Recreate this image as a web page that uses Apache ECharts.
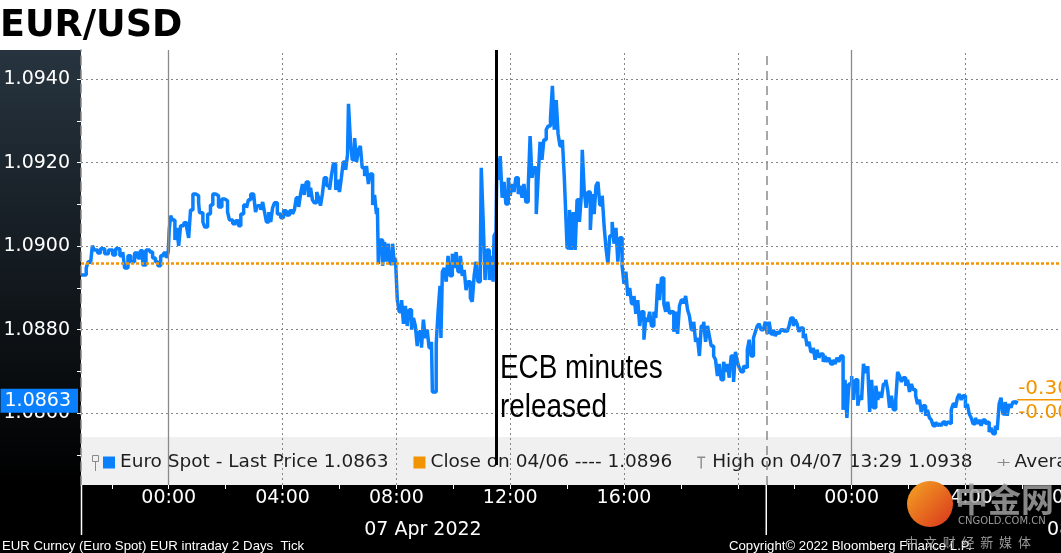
<!DOCTYPE html>
<html>
<head>
<meta charset="utf-8">
<title>EUR/USD</title>
<script src="https://cdn.jsdelivr.net/npm/echarts@6/dist/echarts.min.js"></script>
<style>
  html, body { margin: 0; padding: 0; background: #000; }
  #wrap { position: relative; width: 1061px; height: 553px; overflow: hidden; }
  .bg-top { position: absolute; left: 0; top: 0; width: 1061px; height: 50px; background: #fff; }
  .bg-left { position: absolute; left: 0; top: 50px; width: 81px; height: 435px; background: linear-gradient(#27343f, #000); }
  #chart { position: absolute; left: 0; top: 0; width: 1061px; height: 553px; }
</style>
</head>
<body>
<div id="wrap">
  <div class="bg-top"></div>
  <div class="bg-left"></div>
  <div id="chart"></div>
</div>
<script>
// ticks, one list per day
var apr06Times = ['20:55','21:06','21:10','21:15','21:19','21:23','21:30','21:36','21:45','21:53',
  '22:02','22:08','22:17','22:23','22:27','22:34','22:40','22:48','22:55','23:00',
  '23:05','23:12','23:20','23:26','23:32','23:37','23:43','23:49','23:55','23:59'];
var apr06Prices = [1.08931,1.08948,1.08963,1.08958,1.09001,1.08991,1.08984,1.08994,1.08982,1.08991,
  1.08979,1.08994,1.08977,1.08986,1.08948,1.08977,1.08963,1.08984,1.08972,1.08989,
  1.08955,1.08991,1.08986,1.08972,1.08963,1.08953,1.08977,1.08984,1.08972,1.08986];

var apr07Times = ['00:01','00:04','00:08','00:13','00:17','00:21','00:25','00:32','00:38','00:42',
  '00:46','00:51','00:57','01:03','01:05','01:12','01:16','01:22','01:28','01:33',
  '01:39','01:45','01:52','01:58','02:04','02:08','02:15','02:21','02:27','02:32',
  '02:38','02:44','02:48','02:53','02:59','03:03','03:07','03:14','03:18','03:22',
  '03:26','03:31','03:35','03:39','03:43','03:49','03:56','04:02','04:08','04:15',
  '04:21','04:25','04:29','04:34','04:38','04:42','04:46','04:50','04:55','04:59',
  '05:03','05:07','05:12','05:16','05:20','05:24','05:28','05:33','05:39','05:43',
  '05:47','05:52','05:56','06:00','06:04','06:08','06:13','06:17','06:19','06:23',
  '06:27','06:32','06:36','06:40','06:44','06:48','06:53','06:57','07:01','07:05',
  '07:10','07:14','07:18','07:20','07:22','07:26','07:31','07:35','07:39','07:43',
  '07:47','07:52','07:56','07:58','08:02','08:06','08:11','08:15','08:19','08:23',
  '08:27','08:32','08:36','08:40','08:44','08:48','08:53','08:57','09:01','09:05',
  '09:09','09:14','09:16','09:20','09:24','09:28','09:32','09:34','09:37','09:41',
  '09:45','09:49','09:53','09:58','10:02','10:06','10:10','10:15','10:19','10:23',
  '10:27','10:31','10:36','10:40','10:44','10:48','10:52','10:57','10:59','11:03',
  '11:07','11:11','11:16','11:20','11:24','11:26','11:30','11:32','11:37','11:39',
  '11:43','11:47','11:51','11:56','12:00','12:04','12:08','12:12','12:17','12:21',
  '12:25','12:29','12:33','12:38','12:42','12:46','12:50','12:55','12:59','13:03',
  '13:07','13:11','13:16','13:20','13:25','13:29','13:33','13:37','13:41','13:45',
  '13:50','13:54','13:56','14:00','14:05','14:09','14:13','14:17','14:21','14:26',
  '14:30','14:32','14:36','14:40','14:44','14:49','14:53','14:57','15:01','15:05',
  '15:09','15:14','15:18','15:22','15:26','15:30','15:35','15:39','15:43','15:47',
  '15:51','15:56','16:00','16:04','16:08','16:12','16:16','16:21','16:25','16:29',
  '16:33','16:37','16:42','16:46','16:50','16:54','16:58','17:03','17:07','17:11',
  '17:15','17:19','17:24','17:28','17:32','17:36','17:40','17:45','17:49','17:53',
  '17:57','18:01','18:06','18:10','18:14','18:18','18:22','18:27','18:31','18:35',
  '18:39','18:43','18:48','18:52','18:56','19:00','19:04','19:09','19:13','19:17',
  '19:21','19:25','19:30','19:34','19:38','19:42','19:46','19:51','19:55','19:59',
  '20:03','20:07','20:12','20:16','20:20','20:24','20:28','20:33','20:37','20:41',
  '20:45','20:49','20:54','20:58','21:02','21:06','21:10','21:15','21:19','21:23',
  '21:27','21:31','21:36','21:40','21:44','21:48','21:52','21:57','22:01','22:05',
  '22:09','22:13','22:18','22:22','22:26','22:30','22:34','22:39','22:43','22:47',
  '22:51','22:55','23:00','23:04','23:08','23:12','23:16','23:21','23:25','23:29',
  '23:33','23:37','23:42','23:46','23:50','23:54'];
var apr07Prices = [1.09039,1.09073,1.09063,1.09015,1.09044,1.09001,1.09049,1.09056,1.09044,1.09020,
  1.09087,1.09125,1.09121,1.09104,1.09080,1.09058,1.09046,1.09077,1.09099,1.09125,
  1.09121,1.09094,1.09113,1.09109,1.09082,1.09063,1.09054,1.09061,1.09049,1.09077,
  1.09099,1.09092,1.09111,1.09125,1.09121,1.09082,1.09097,1.09087,1.09106,1.09082,
  1.09058,1.09082,1.09058,1.09092,1.09104,1.09077,1.09068,1.09085,1.09075,1.09085,
  1.09077,1.09087,1.09116,1.09094,1.09125,1.09149,1.09123,1.09154,1.09118,1.09140,
  1.09111,1.09104,1.09130,1.09116,1.09097,1.09125,1.09164,1.09145,1.09135,1.09168,
  1.09197,1.09135,1.09159,1.09130,1.09164,1.09202,1.09183,1.09219,1.09341,1.09255,
  1.09207,1.09259,1.09202,1.09231,1.09240,1.09188,1.09168,1.09192,1.09149,1.09173,
  1.09099,1.09123,1.09077,1.09092,1.08958,1.09015,1.08953,1.09010,1.08963,1.09006,
  1.08958,1.09006,1.08955,1.08972,1.08871,1.08843,1.08871,1.08814,1.08857,1.08809,
  1.08848,1.08800,1.08828,1.08809,1.08761,1.08795,1.08757,1.08824,1.08780,1.08800,
  1.08757,1.08771,1.08651,1.08651,1.08766,1.08843,1.08905,1.08780,1.08939,1.08948,
  1.08915,1.08977,1.08929,1.08982,1.08948,1.08986,1.08939,1.08977,1.08929,1.08943,
  1.08895,1.08915,1.08876,1.08867,1.08929,1.08963,1.08915,1.08963,1.09188,1.09063,
  1.08919,1.08991,1.08919,1.08977,1.08915,1.09025,1.09034,1.09207,1.09159,1.09216,
  1.09116,1.09154,1.09101,1.09164,1.09121,1.09149,1.09130,1.09164,1.09125,1.09145,
  1.09116,1.09149,1.09106,1.09140,1.09264,1.09164,1.09188,1.09077,1.09164,1.09250,
  1.09207,1.09255,1.09279,1.09288,1.09307,1.09384,1.09279,1.09350,1.09269,1.09240,
  1.09255,1.09168,1.09111,1.08996,1.09087,1.08991,1.09082,1.08991,1.09111,1.09058,
  1.09121,1.09231,1.09135,1.09092,1.09130,1.09039,1.09125,1.09077,1.09145,1.09154,
  1.09099,1.09121,1.09049,1.08996,1.08958,1.09025,1.09058,1.09006,1.09044,1.08963,
  1.09020,1.08953,1.08910,1.08939,1.08881,1.08900,1.08862,1.08881,1.08838,1.08871,
  1.08809,1.08843,1.08776,1.08828,1.08819,1.08843,1.08809,1.08843,1.08828,1.08910,
  1.08871,1.08924,1.08862,1.08843,1.08867,1.08838,1.08843,1.08795,1.08843,1.08790,
  1.08857,1.08871,1.08862,1.08881,1.08848,1.08833,1.08800,1.08819,1.08771,1.08780,
  1.08737,1.08809,1.08819,1.08771,1.08809,1.08785,1.08761,1.08737,1.08728,1.08689,
  1.08718,1.08680,1.08723,1.08699,1.08718,1.08685,1.08737,1.08675,1.08747,1.08723,
  1.08709,1.08699,1.08713,1.08709,1.08752,1.08776,1.08737,1.08780,1.08795,1.08809,
  1.08814,1.08800,1.08804,1.08819,1.08790,1.08819,1.08790,1.08800,1.08785,1.08795,
  1.08790,1.08800,1.08795,1.08800,1.08795,1.08809,1.08828,1.08809,1.08824,1.08814,
  1.08795,1.08804,1.08780,1.08790,1.08761,1.08771,1.08747,1.08757,1.08728,1.08752,
  1.08733,1.08742,1.08723,1.08737,1.08723,1.08733,1.08718,1.08728,1.08718,1.08733,
  1.08723,1.08737,1.08608,1.08680,1.08589,1.08670];

var apr08Times = ['00:00','00:04','00:08','00:13','00:17','00:21','00:25','00:29','00:34','00:38',
  '00:42','00:46','00:51','00:55','00:59','01:03','01:07','01:12','01:16','01:20',
  '01:24','01:28','01:33','01:37','01:41','01:45','01:49','01:54','01:58','02:02',
  '02:06','02:10','02:15','02:19','02:23','02:27','02:31','02:36','02:40','02:44',
  '02:48','02:52','02:57','03:01','03:05','03:09','03:13','03:18','03:22','03:26',
  '03:30','03:34','03:39','03:43','03:47','03:51','03:55','04:00','04:04','04:08',
  '04:12','04:16','04:21','04:25','04:29','04:33','04:37','04:42','04:46','04:50',
  '04:54','04:58','05:03','05:07','05:11','05:15','05:19','05:24','05:28','05:32',
  '05:36','05:40','05:45','05:49'];
var apr08Prices = [1.08689,1.08632,1.08680,1.08618,1.08642,1.08632,1.08718,1.08699,1.08713,1.08603,
  1.08680,1.08613,1.08666,1.08632,1.08651,1.08637,1.08670,1.08680,1.08656,1.08613,
  1.08642,1.08608,1.08632,1.08699,1.08689,1.08675,1.08685,1.08666,1.08680,1.08651,
  1.08670,1.08656,1.08642,1.08622,1.08632,1.08603,1.08618,1.08594,1.08608,1.08589,
  1.08584,1.08570,1.08579,1.08570,1.08575,1.08570,1.08579,1.08570,1.08579,1.08575,
  1.08608,1.08622,1.08613,1.08637,1.08646,1.08632,1.08642,1.08613,1.08622,1.08598,
  1.08589,1.08575,1.08589,1.08575,1.08584,1.08570,1.08584,1.08575,1.08579,1.08555,
  1.08565,1.08551,1.08570,1.08560,1.08622,1.08637,1.08598,1.08627,1.08594,1.08622,
  1.08613,1.08627,1.08622,1.08630];

var legendNames = ['Euro Spot - Last Price 1.0863', 'Close on 04/06 ---- 1.0896',
  'High on 04/07 13:29 1.0938', 'Average 1.0894'];
var closePrice = 1.0896;
var lastPrice = 1.0863;
var changeTexts = ['-0.30%', '-0.0033'];
var ecbTime = '2022-04-07 11:30';

var yLabelValues = [1.086, 1.088, 1.090, 1.092, 1.094];
var yTickValues = [1.085, 1.086, 1.087, 1.088, 1.089, 1.090, 1.091, 1.092, 1.093, 1.094];
var xLabelTimes = ['2022-04-07 00:00', '2022-04-07 04:00', '2022-04-07 08:00', '2022-04-07 12:00',
  '2022-04-07 16:00', '2022-04-08 00:00', '2022-04-08 04:00', '2022-04-08 08:00'];
var xTickTimes = ['2022-04-06 22:00', '2022-04-07 00:00', '2022-04-07 02:00', '2022-04-07 04:00',
  '2022-04-07 06:00', '2022-04-07 08:00', '2022-04-07 10:00', '2022-04-07 12:00', '2022-04-07 14:00',
  '2022-04-07 16:00', '2022-04-07 18:00', '2022-04-07 20:00', '2022-04-07 22:00', '2022-04-08 00:00',
  '2022-04-08 02:00', '2022-04-08 04:00', '2022-04-08 06:00', '2022-04-08 08:00'];
var dateLabelTimes = ['2022-04-07 08:56', '2022-04-08 08:56'];
var hourLineTimes = ['2022-04-07 04:00', '2022-04-07 08:00', '2022-04-07 12:00', '2022-04-07 16:00',
  '2022-04-07 20:00', '2022-04-08 04:00', '2022-04-08 08:00'];
var dayLineTimes = ['2022-04-07 00:00', '2022-04-08 00:00'];
var sessionLineTimes = ['2022-04-07 21:00'];
var xStart = '2022-04-06 20:55';
var xEnd = '2022-04-08 09:28';

var BLUE = '#0a80ff';
var ORANGE = '#f29400';
var GRID_GRAY = '#858585';
var MONTHS = ['Jan','Feb','Mar','Apr','May','Jun','Jul','Aug','Sep','Oct','Nov','Dec'];

function ts(s) { return new Date(s.replace(' ', 'T') + ':00').getTime(); }
function pad(n) { return (n < 10 ? '0' : '') + n; }

var priceData = [];
[['2022-04-06', apr06Times, apr06Prices], ['2022-04-07', apr07Times, apr07Prices],
 ['2022-04-08', apr08Times, apr08Prices]].forEach(function (d) {
  d[1].forEach(function (t, i) { priceData.push([ts(d[0] + ' ' + t), d[2][i]]); });
});

var yMin = 1.08428, yMax = 1.0947;

var gridLines = [];
yLabelValues.forEach(function (v) {
  gridLines.push({ yAxis: v, lineStyle: { color: GRID_GRAY, width: 1, type: [2, 3] } });
});
hourLineTimes.forEach(function (t) {
  gridLines.push({ xAxis: ts(t), lineStyle: { color: GRID_GRAY, width: 1, type: [2, 3] } });
});
dayLineTimes.forEach(function (t) {
  gridLines.push({ xAxis: ts(t), lineStyle: { color: '#8a8a8a', width: 1.3, type: 'solid' } });
});
sessionLineTimes.forEach(function (t) {
  gridLines.push({ xAxis: ts(t), lineStyle: { color: '#8a8a8a', width: 1.5, type: [9, 6] } });
});

var chart = echarts.init(document.getElementById('chart'));

var option = {
  animation: false,
  title: {
    text: 'EUR/USD', left: 0, top: 8, padding: 0,
    textStyle: { fontFamily: 'DejaVu Sans', fontWeight: 'bold', fontSize: 36.5, color: '#000' }
  },
  grid: {
    left: 81, right: -60, top: 50, bottom: 68, show: true, backgroundColor: '#fff', borderWidth: 0,
    containLabel: false, outerBoundsMode: 'none'
  },
  legend: {
    left: 103, top: 453, width: 1300, padding: 0, itemGap: 25, itemWidth: 12, itemHeight: 12,
    selectedMode: false,
    itemStyle: { borderWidth: 0 },
    textStyle: { color: '#1e1e1e', fontFamily: 'DejaVu Sans', fontSize: 18.5 },
    data: [
      { name: legendNames[0], icon: 'rect' },
      { name: legendNames[1], icon: 'rect' },
      { name: legendNames[2], icon: 'path://M0,0h8v1.4h-3.3v10.6h-1.4v-10.6h-3.3z' },
      { name: legendNames[3], icon: 'path://M0,5.4h12v1.2h-12z M5.4,2.5h1.2v7h-1.2z' }
    ]
  },
  xAxis: [{
    type: 'value', min: ts(xStart), max: ts(xEnd),
    axisLine: { show: false },
    splitLine: { show: false },
    axisTick: { show: true, customValues: xTickTimes.map(ts), length: 4, lineStyle: { color: '#fff', width: 1 } },
    axisLabel: {
      customValues: xLabelTimes.map(ts), margin: 4,
      color: '#fff', fontFamily: 'DejaVu Sans', fontSize: 19,
      formatter: function (v) { var d = new Date(v); return pad(d.getHours()) + ':' + pad(d.getMinutes()); }
    }
  }, {
    type: 'value', min: ts(xStart), max: ts(xEnd), position: 'bottom', offset: 33,
    axisLine: { show: false }, axisTick: { show: false }, splitLine: { show: false },
    axisLabel: {
      customValues: dateLabelTimes.map(ts), margin: 3,
      color: '#fff', fontFamily: 'DejaVu Sans', fontSize: 19,
      formatter: function (v) {
        var d = new Date(v);
        return pad(d.getDate()) + ' ' + MONTHS[d.getMonth()] + ' ' + d.getFullYear();
      }
    }
  }],
  yAxis: {
    type: 'value', min: yMin, max: yMax, position: 'left',
    axisLine: { show: true, lineStyle: { color: '#8a8a8a', width: 1.5, type: [9, 5] } },
    axisTick: { show: true, customValues: yTickValues, length: 4, lineStyle: { color: '#fff' } },
    splitLine: { show: false },
    axisLabel: {
      customValues: yLabelValues, margin: 11,
      color: '#fff', fontFamily: 'DejaVu Sans', fontSize: 19,
      formatter: function (v) { return v.toFixed(4); }
    }
  },
  series: [
    {
      // grid lines
      type: 'line', data: [], z: 1, silent: true,
      markLine: { silent: true, precision: 8, symbol: 'none', label: { show: false }, emphasis: { disabled: true }, data: gridLines }
    },
    {
      name: legendNames[1], type: 'line', data: [], z: 2,
      itemStyle: { color: ORANGE }, lineStyle: { color: ORANGE },
      markLine: {
        silent: true, precision: 8, symbol: 'none', label: { show: false }, emphasis: { disabled: true },
        data: [{ yAxis: closePrice, lineStyle: { color: ORANGE, width: 2.5, type: [3, 2] } }]
      }
    },
    {
      name: legendNames[0], type: 'line', data: priceData, z: 3,
      showSymbol: false, symbol: 'none', step: 'end',
      itemStyle: { color: BLUE }, lineStyle: { color: BLUE, width: 3.5 }
    },
    { name: legendNames[2], type: 'line', data: [], itemStyle: { color: '#8a8a8a' } },
    { name: legendNames[3], type: 'line', data: [], itemStyle: { color: '#8a8a8a' } },
    {
      // ECB minutes marker and last price tag
      type: 'line', data: [], z: 5, silent: true,
      markLine: {
        silent: true, precision: 8, symbol: 'none', emphasis: { disabled: true },
        data: [
          [{ coord: [ts(ecbTime), yMax] }, { coord: [ts(ecbTime), 1.08476] }],
          {
            yAxis: lastPrice, lineStyle: { color: 'rgba(0,0,0,0)', width: 1 },
            label: {
              show: true, position: 'start', distance: 3, formatter: lastPrice.toFixed(4),
              color: '#fff', backgroundColor: BLUE, padding: [3, 7, 2, 4],
              fontFamily: 'DejaVu Sans', fontSize: 19
            }
          }
        ],
        label: { show: false },
        lineStyle: { color: '#000', width: 3, type: 'solid' }
      }
    }
  ]
};

chart.setOption(option);

// annotations placed from the chart's own scales
var ecbPx = chart.convertToPixel({ gridIndex: 0 }, [ts(ecbTime), lastPrice]);
var last = priceData[priceData.length - 1];
var lastPx = chart.convertToPixel({ gridIndex: 0 }, [last[0], lastPrice]);
var leftPx = chart.convertToPixel({ gridIndex: 0 }, [ts(xStart), lastPrice]);
var sessPx = chart.convertToPixel({ gridIndex: 0 }, [ts(sessionLineTimes[0]), lastPrice]);

var footFont = '13.2px "Liberation Sans"';
chart.setOption({
  graphic: [
    { type: 'rect', z: 0, silent: true, shape: { x: 81, y: 437, width: 980, height: 48 }, style: { fill: 'rgba(0,0,0,0.058)' } },
    // small pin marker in front of the first legend entry
    { type: 'rect', z: 10, silent: true, shape: { x: 92.5, y: 455.5, width: 6, height: 6 }, style: { fill: 'none', stroke: '#8a8a8a', lineWidth: 1 } },
    { type: 'line', z: 10, silent: true, shape: { x1: 95.5, y1: 461.5, x2: 95.5, y2: 471 }, style: { stroke: '#8a8a8a', lineWidth: 1 } },
    { type: 'text', z: 10, silent: true, x: ecbPx[0] + 4, y: 349, scaleX: 0.82,
      style: { text: 'ECB minutes\nreleased', fill: '#000', font: '34px "Liberation Sans"', lineHeight: 39, verticalAlign: 'top' } },
    { type: 'text', z: 10, silent: true, x: lastPx[0] + 1, y: lastPx[1] - 12,
      style: { text: changeTexts[0], fill: ORANGE, font: '20px "DejaVu Sans"', verticalAlign: 'middle' } },
    { type: 'text', z: 10, silent: true, x: lastPx[0] + 1, y: lastPx[1] + 12,
      style: { text: changeTexts[1], fill: ORANGE, font: '20px "DejaVu Sans"', verticalAlign: 'middle' } },
    { type: 'line', z: 10, silent: true, shape: { x1: lastPx[0], y1: lastPx[1] - 1, x2: 1061, y2: lastPx[1] - 1 }, style: { stroke: ORANGE, lineWidth: 1.5 } },
    { type: 'line', z: 10, silent: true, shape: { x1: leftPx[0] + 0.5, y1: 485, x2: leftPx[0] + 0.5, y2: 535 }, style: { stroke: '#fff', lineWidth: 1.5 } },
    { type: 'line', z: 10, silent: true, shape: { x1: sessPx[0], y1: 485, x2: sessPx[0], y2: 535 }, style: { stroke: '#fff', lineWidth: 1.5 } },
    { type: 'text', z: 10, silent: true, x: 2, y: 546,
      style: { text: 'EUR Curncy (Euro Spot) EUR intraday 2 Days  Tick', fill: '#fff', font: footFont, verticalAlign: 'middle' } },
    { type: 'text', z: 10, silent: true, x: 729, y: 546,
      style: { text: 'Copyright\u00a9 2022 Bloomberg Finance L.P.', fill: '#fff', font: footFont, verticalAlign: 'middle' } },
    // watermark
    { type: 'circle', z: 11, silent: true, shape: { cx: 930, cy: 504, r: 23 },
      style: { fill: new echarts.graphic.LinearGradient(0, 0, 1, 1, [{ offset: 0, color: '#f5a623' }, { offset: 1, color: '#d9341c' }]) } },
    { type: 'text', z: 11, silent: true, x: 955, y: 499,
      style: { text: '中金网', fill: 'rgba(160,160,160,0.85)', font: 'bold 33px "Noto Sans CJK SC"', verticalAlign: 'middle' } },
    { type: 'text', z: 11, silent: true, x: 958, y: 521,
      style: { text: 'CNGOLD.COM.CN', fill: 'rgba(170,170,170,0.9)', font: '10px "DejaVu Sans"', verticalAlign: 'middle' } },
    { type: 'text', z: 11, silent: true, x: 905, y: 542,
      style: { text: '中  文  财  经  新  媒  体', fill: 'rgba(170,170,170,0.9)', font: '13px "Noto Sans CJK SC"', verticalAlign: 'middle' } }
  ]
});

window.addEventListener('resize', function () { chart.resize(); });
</script>
</body>
</html>
